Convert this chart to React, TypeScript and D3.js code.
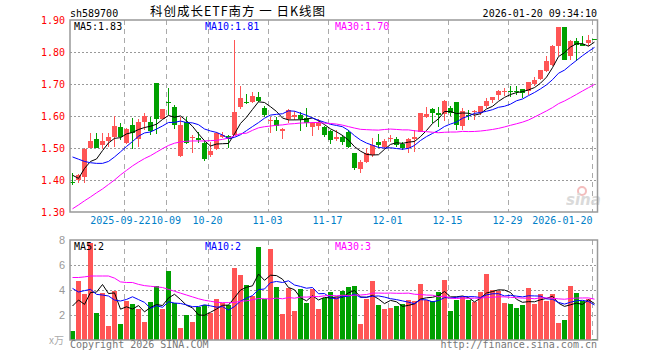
import React from "react";
import * as d3 from "d3";

// ---------- data ----------
const opens = [
  1.394, 1.400, 1.408, 1.501, 1.527, 1.510, 1.523, 1.535, 1.567,
  1.515, 1.571, 1.527, 1.582, 1.582, 1.703, 1.592, 1.645, 1.627, 1.474,
  1.581, 1.532, 1.532, 1.515, 1.479, 1.496, 1.533, 1.537, 1.541, 1.627,
  1.645, 1.643, 1.660, 1.624, 1.586, 1.588, 1.553, 1.591, 1.596, 1.604,
  1.595, 1.565, 1.569, 1.567, 1.554, 1.527, 1.533, 1.551, 1.483, 1.435,
  1.457, 1.478, 1.519, 1.504, 1.529, 1.528, 1.514, 1.499, 1.527, 1.551,
  1.596, 1.621, 1.608, 1.606, 1.625, 1.644, 1.569, 1.604, 1.614, 1.609,
  1.632, 1.651, 1.667, 1.676, 1.678, 1.678, 1.684, 1.677, 1.701, 1.717,
  1.740, 1.760, 1.820, 1.878, 1.786, 1.833, 1.826, 1.828, 1.841,
];
const highs = [
  1.423, 1.420, 1.500, 1.548, 1.548, 1.546, 1.546, 1.601, 1.579,
  1.562, 1.593, 1.592, 1.608, 1.598, 1.703, 1.622, 1.689, 1.634, 1.597,
  1.598, 1.541, 1.551, 1.523, 1.520, 1.551, 1.551, 1.541, 1.838, 1.694,
  1.669, 1.676, 1.676, 1.631, 1.598, 1.598, 1.561, 1.621, 1.617, 1.614,
  1.624, 1.582, 1.590, 1.569, 1.556, 1.556, 1.541, 1.556, 1.485, 1.462,
  1.499, 1.530, 1.543, 1.527, 1.541, 1.533, 1.520, 1.530, 1.556, 1.610,
  1.627, 1.624, 1.627, 1.650, 1.630, 1.644, 1.624, 1.620, 1.620, 1.632,
  1.656, 1.658, 1.680, 1.687, 1.695, 1.693, 1.684, 1.705, 1.722, 1.745,
  1.786, 1.823, 1.878, 1.878, 1.836, 1.844, 1.851, 1.854, 1.841,
];
const lows = [
  1.384, 1.390, 1.392, 1.499, 1.499, 1.497, 1.504, 1.502, 1.525,
  1.513, 1.496, 1.502, 1.556, 1.541, 1.544, 1.591, 1.604, 1.558, 1.472,
  1.513, 1.485, 1.517, 1.460, 1.473, 1.494, 1.530, 1.499, 1.540, 1.621,
  1.637, 1.640, 1.645, 1.598, 1.548, 1.554, 1.527, 1.577, 1.588, 1.552,
  1.567, 1.538, 1.556, 1.533, 1.513, 1.523, 1.509, 1.500, 1.431, 1.423,
  1.454, 1.473, 1.499, 1.498, 1.520, 1.504, 1.494, 1.485, 1.488, 1.549,
  1.593, 1.577, 1.567, 1.583, 1.600, 1.556, 1.556, 1.589, 1.587, 1.604,
  1.625, 1.641, 1.651, 1.661, 1.659, 1.667, 1.656, 1.667, 1.693, 1.714,
  1.736, 1.755, 1.789, 1.776, 1.776, 1.771, 1.818, 1.818, 1.838,
];
const closes = [
  1.392, 1.415, 1.497, 1.523, 1.501, 1.523, 1.535, 1.569, 1.533,
  1.560, 1.546, 1.581, 1.600, 1.553, 1.591, 1.621, 1.643, 1.573, 1.573,
  1.515, 1.535, 1.525, 1.465, 1.491, 1.546, 1.540, 1.529, 1.614, 1.655,
  1.643, 1.662, 1.648, 1.603, 1.589, 1.569, 1.559, 1.619, 1.603, 1.591,
  1.579, 1.577, 1.577, 1.541, 1.525, 1.533, 1.520, 1.504, 1.439, 1.455,
  1.483, 1.509, 1.509, 1.523, 1.532, 1.509, 1.499, 1.529, 1.533, 1.608,
  1.605, 1.608, 1.603, 1.646, 1.609, 1.572, 1.617, 1.599, 1.616, 1.632,
  1.646, 1.658, 1.677, 1.678, 1.676, 1.677, 1.672, 1.705, 1.714, 1.745,
  1.771, 1.820, 1.878, 1.776, 1.833, 1.823, 1.820, 1.839, 1.840,
];
const volumes = [
  0.75, 4.75, 3.68, 7.79, 2.19, 3.79, 1.12, 3.95, 1.28,
  3.15, 2.88, 2.51, 1.44, 3.04, 4.32, 2.48, 5.52, 2.93, 0.96,
  2.0, 1.44, 2.67, 2.8, 2.19, 3.28, 2.93, 2.77, 5.76, 5.23,
  4.4, 3.52, 7.47, 3.25, 7.28, 4.24, 2.08, 4.16, 2.35, 4.08,
  2.99, 4.11, 2.48, 3.39, 3.84, 3.47, 3.92, 4.24, 4.32, 1.28,
  3.28, 4.72, 2.8, 2.48, 2.56, 2.72, 2.88, 3.2, 3.12, 4.48,
  3.2, 3.09, 3.84, 4.8, 2.32, 3.23, 3.41, 3.22, 3.05, 3.84,
  5.28, 4.0, 3.9, 2.96, 2.86, 2.58, 2.78, 4.16, 2.9, 3.68,
  3.1, 3.68, 1.38, 1.6, 4.33, 3.78, 3.14, 3.25, 0.1,
];

// moving-average values at the left edge (history not shown in the picture)
const ma5Head = [1.415, 1.405, 1.436, 1.458];
const ma10Head = [1.472, 1.465, 1.458, 1.454, 1.452, 1.452, 1.458, 1.472, 1.488];
const ma30Head = [
  1.310, 1.322, 1.335, 1.347, 1.360, 1.372, 1.386, 1.400, 1.416, 1.430,
  1.444, 1.456, 1.467, 1.476, 1.487, 1.498, 1.508, 1.515, 1.519, 1.521,
  1.522, 1.522, 1.522, 1.523, 1.524, 1.527, 1.531, 1.538, 1.545,
];
const volMa5Head = [2.72, 3.2, 2.85, 3.8];
const volMa10Head = [4.13, 3.84, 3.95, 4.05, 3.65, 3.6, 3.52, 3.2, 3.12];
const volMa30Head = [
  5.0, 5.0, 5.05, 5.12, 5.12, 5.12, 5.12, 4.95, 4.65, 4.6,
  4.6, 4.45, 4.35, 4.3, 4.25, 4.2, 4.05, 3.9, 3.75, 3.6,
  3.45, 3.3, 3.18, 3.1, 3.02, 2.99, 2.99, 3.0, 3.1,
];

const tickLabels = ["2025-09-22", "10-09", "10-20", "11-03", "11-17", "12-01", "12-15", "12-29", "2026-01-20"];
const tickIndex = [9, 16, 23, 33, 43, 53, 63, 73, 87];
const priceTicks = [1.9, 1.8, 1.7, 1.6, 1.5, 1.4, 1.3];
const volTicks = [8, 6, 4, 2];
const priceMaLabels = ["MA5:1.83", "MA10:1.81", "MA30:1.70"];
const volMaLabels = ["MA5:2", "MA10:2", "MA30:3"];
const maColors = ["#000000", "#0000ff", "#ff00ff"];

// ---------- layout ----------
const W = 660;
const H = 360;
const L = 70;
const R = 597.5;
const PT = 20;
const PB = 212;
const VT = 240;
const VB = 340;
const UP = "#ff5555";
const DOWN = "#00a000";
const MONO = "'DejaVu Sans Mono', 'Liberation Mono', monospace";

function movingAvg(values: number[], n: number, head: number[]) {
  return values.map((_, i) =>
    i < head.length ? head[i] : (d3.mean(values.slice(i - n + 1, i + 1)) as number)
  );
}

export default function App() {
  const n = closes.length;
  const x = d3.scaleLinear().domain([0, n - 1]).range([72.5, 72.5 + 6 * (n - 1)]);
  const y = d3.scaleLinear().domain([1.3, 1.9]).range([PB, PT]);
  const yv = d3.scaleLinear().domain([0, 8]).range([VB, VT]);

  const pMAs = [
    movingAvg(closes, 5, ma5Head),
    movingAvg(closes, 10, ma10Head),
    movingAvg(closes, 30, ma30Head),
  ];
  const vMAs = [
    movingAvg(volumes, 5, volMa5Head),
    movingAvg(volumes, 10, volMa10Head),
    movingAvg(volumes, 30, volMa30Head),
  ];
  const pLine = d3.line<number>().x((_, i) => x(i)).y((d) => y(d));
  const vLine = d3.line<number>().x((_, i) => x(i)).y((d) => yv(d));

  const isUp = (i: number) => closes[i] >= opens[i];
  const gridX = tickIndex.map((k) => x(k) - 2);
  const maLabelX = [74, 205, 335];
  const last = tickLabels.length - 1;

  return (
    <svg
      width={W}
      height={H}
      viewBox={`0 0 ${W} ${H}`}
      style={{ position: "absolute", left: 0, top: 0, background: "#fff" }}
    >
      <rect x={0} y={0} width={W} height={H} fill="#fff" />

      {/* header */}
      <text x={70} y={17} fontFamily={MONO} fontSize={10} fill="#000">sh589700</text>
      <text
        x={150}
        y={16}
        fontFamily="'Noto Sans CJK SC', sans-serif"
        fontSize={12.5}
        fill="#000"
        textLength={175}
        lengthAdjust="spacing"
      >
        科创成长ETF南方 一 日K线图
      </text>
      <text x={597} y={17} fontFamily={MONO} fontSize={10} fill="#000" textAnchor="end">
        2026-01-20 09:34:10
      </text>

      {/* grids */}
      {priceTicks.slice(1, -1).map((t) => (
        <line key={"hp" + t} x1={L} x2={R} y1={Math.round(y(t)) + 0.5} y2={Math.round(y(t)) + 0.5}
          stroke="#999" strokeDasharray="2,2" shapeRendering="crispEdges" />
      ))}
      {volTicks.slice(1).map((t) => (
        <line key={"hv" + t} x1={L} x2={R} y1={Math.round(yv(t)) + 0.5} y2={Math.round(yv(t)) + 0.5}
          stroke="#999" strokeDasharray="2,2" shapeRendering="crispEdges" />
      ))}
      {gridX.map((gx, j) => (
        <g key={"vx" + j}>
          <line x1={gx} x2={gx} y1={PT} y2={PB} stroke="#aaa" strokeDasharray="5,4" shapeRendering="crispEdges" />
          <line x1={gx} x2={gx} y1={VT} y2={VB} stroke="#aaa" strokeDasharray="5,4" shapeRendering="crispEdges" />
        </g>
      ))}

      {/* watermark */}
      <g opacity={0.9}>
        <circle cx={582} cy={191} r={4} fill="none" stroke="#f2b6b6" strokeWidth={2} />
        <text x={566} y={205} fontFamily="'DejaVu Sans', sans-serif" fontStyle="italic" fontWeight="bold"
          fontSize={15} fill="#d6d6d6">sina</text>
      </g>

      {/* candles */}
      {closes.map((c, i) => {
        const o = opens[i];
        const col = isUp(i) ? UP : DOWN;
        const top = Math.round(y(Math.max(o, c)));
        const bot = Math.round(y(Math.min(o, c)));
        return (
          <g key={"c" + i} shapeRendering="crispEdges">
            <line x1={x(i)} x2={x(i)} y1={Math.round(y(highs[i]))} y2={Math.round(y(lows[i]))} stroke={col} />
            <rect x={x(i) - 2.5} y={top} width={5} height={Math.max(1, bot - top)} fill={col} />
          </g>
        );
      })}

      {/* price MAs */}
      {pMAs.map((m, j) => (
        <path key={"pm" + j} d={pLine(m) || ""} fill="none" stroke={maColors[j]} strokeWidth={1} />
      ))}

      {/* volume bars */}
      {volumes.map((v, i) => (
        <rect key={"v" + i} x={x(i) - 2.5} y={Math.round(yv(v))} width={5}
          height={VB - Math.round(yv(v))} fill={isUp(i) ? UP : DOWN} shapeRendering="crispEdges" />
      ))}
      {vMAs.map((m, j) => (
        <path key={"vm" + j} d={vLine(m) || ""} fill="none" stroke={maColors[j]} strokeWidth={1} />
      ))}

      {/* frames */}
      <rect x={L} y={PT} width={R - L} height={PB - PT} fill="none" stroke="#999" strokeWidth={1.5} />
      <rect x={L} y={VT} width={R - L} height={VB - VT} fill="none" stroke="#999" strokeWidth={1.5} />

      {/* MA labels */}
      {priceMaLabels.map((t, j) => (
        <text key={"pl" + j} x={maLabelX[j]} y={30} fontFamily={MONO} fontSize={10} fill={maColors[j]}>{t}</text>
      ))}
      {volMaLabels.map((t, j) => (
        <text key={"vl" + j} x={maLabelX[j]} y={250} fontFamily={MONO} fontSize={10} fill={maColors[j]}>{t}</text>
      ))}

      {/* y axis labels */}
      {priceTicks.map((t) => (
        <text key={"yl" + t} x={65} y={y(t) + 3.5} fontFamily={MONO} fontSize={10} fill="#ff0000" textAnchor="end">
          {t.toFixed(2)}
        </text>
      ))}
      {volTicks.map((t) => (
        <text key={"yv" + t} x={65} y={yv(t) + 4} fontFamily="'Liberation Sans', sans-serif" fontSize={11}
          fill="#999" textAnchor="end">{t}</text>
      ))}
      <text x={64} y={344} fontFamily="'Noto Sans CJK SC', sans-serif" fontSize={10} fill="#aaa" textAnchor="end">x万</text>

      {/* x axis labels */}
      {tickLabels.map((t, j) => {
        let tx = gridX[j] - 1;
        let anchor: "middle" | "end" | "start" = "middle";
        if (j === 0) { tx = gridX[1] - 16; anchor = "end"; }
        if (j === 1) { tx = gridX[1] - 15.5; anchor = "start"; }
        if (j === last) { tx = gridX[j]; anchor = "end"; }
        return (
          <text key={"xl" + j} x={tx} y={224} fontFamily={MONO} fontSize={10} fill="#0080c8"
            textAnchor={anchor}>{t}</text>
        );
      })}

      {/* footer */}
      <text x={70} y={348} fontFamily={MONO} fontSize={10} fill="#777">Copyright 2026 SINA.COM</text>
      <text x={597} y={348} fontFamily={MONO} fontSize={10} fill="#777" textAnchor="end">http://finance.sina.com.cn</text>
    </svg>
  );
}
